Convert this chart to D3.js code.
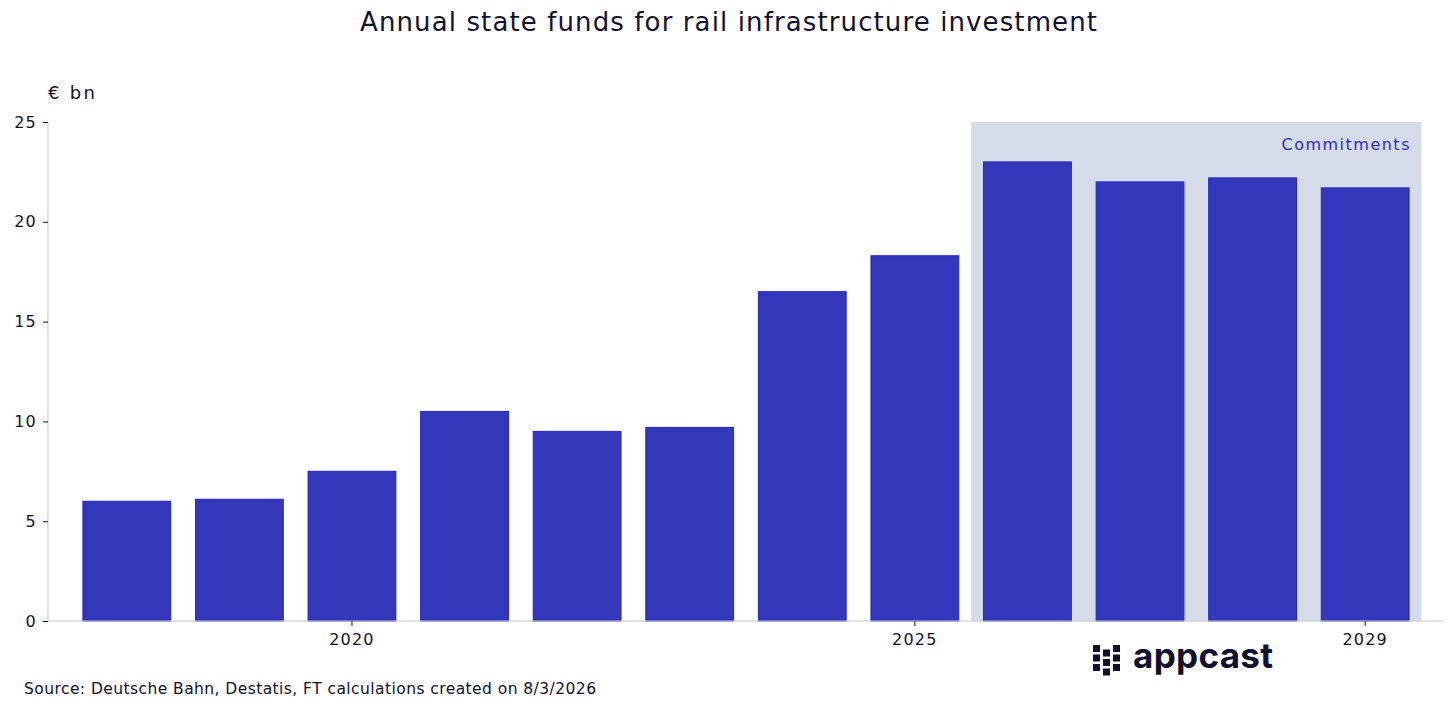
<!DOCTYPE html>
<html>
<head>
<meta charset="utf-8">
<script src="https://cdn.jsdelivr.net/npm/d3@7"></script>
<style>
  body { margin: 0; background: #fff; }
  svg { display: block; font-family: "DejaVu Sans", sans-serif; }
</style>
</head>
<body>
<div id="container"></div>
<script>
/* DATA */
const years = [2018, 2019, 2020, 2021, 2022, 2023, 2024, 2025, 2026, 2027, 2028, 2029];
const funds = [6.0, 6.1, 7.5, 10.5, 9.5, 9.7, 16.5, 18.3, 23.0, 22.0, 22.2, 21.7];
const commitmentYears = [2026, 2027, 2028, 2029];
const yTicks = [0, 5, 10, 15, 20, 25];
const xTickYears = [2020, 2025, 2029];

/* CONSTANTS */
const width = 1456, height = 714;
const margin = {top: 122, bottom: 93, left: 48, right: 12};
const ink = "#11112e";

const svg = d3.select("#container").append("svg")
  .attr("width", width)
  .attr("height", height);

const xScale = d3.scaleBand()
  .domain(years)
  .range([margin.left, width - margin.right])
  .paddingInner(0.22)
  .paddingOuter(0.31);

const yScale = d3.scaleLinear()
  .domain([0, 25])
  .range([height - margin.bottom, margin.top]);

// shaded commitments region
const halfGap = xScale.step() * xScale.paddingInner() / 2;
const c0 = xScale(commitmentYears[0]) - halfGap;
const c1 = xScale(commitmentYears[commitmentYears.length - 1]) + xScale.bandwidth() + halfGap;

svg.append("rect")
  .attr("x", c0)
  .attr("y", yScale(25))
  .attr("width", c1 - c0)
  .attr("height", yScale(0) - yScale(25))
  .attr("fill", "#d5dbe8");

svg.append("text")
  .attr("x", c1 - 140)
  .attr("y", yScale(25) + 28)
  .attr("fill", "#2b2fb8")
  .attr("font-size", 16)
  .attr("textLength", 128)
  .text("Commitments");

// bars
svg.selectAll("rect.bar")
  .data(years.map((y, i) => ({year: y, value: funds[i]})))
  .join("rect")
  .attr("class", "bar")
  .attr("x", d => xScale(d.year))
  .attr("y", d => yScale(d.value))
  .attr("width", xScale.bandwidth())
  .attr("height", d => yScale(0) - yScale(d.value))
  .attr("fill", "#3338bb")
  .attr("stroke", "#2126c8")
  .attr("stroke-width", 1);

// axes
const yAxis = d3.axisLeft(yScale).tickValues(yTicks).tickSize(5).tickPadding(6);
const yAxisGroup = svg.append("g")
  .attr("transform", `translate(${margin.left},0)`)
  .call(yAxis);

const xAxis = d3.axisBottom(xScale).tickValues(xTickYears).tickSize(5).tickPadding(8);
const xAxisGroup = svg.append("g")
  .attr("transform", `translate(0,${yScale(0)})`)
  .call(xAxis);

[yAxisGroup, xAxisGroup].forEach(g => {
  g.select(".domain").attr("stroke", "#c8c8c8").attr("stroke-width", 1.2);
  g.selectAll(".tick line").attr("stroke", ink);
  g.selectAll(".tick text").attr("fill", ink).attr("font-size", 16)
    .attr("letter-spacing", 1.2)
    .attr("font-family", "DejaVu Sans, sans-serif");
});
xAxisGroup.select(".domain").attr("d", `M${margin.left},0H${width - margin.right}`);
yAxisGroup.select(".domain").attr("d", `M0,${yScale(25)}V${yScale(0)}`);

// titles
svg.append("text")
  .attr("x", 360)
  .attr("y", 31)
  .attr("fill", ink)
  .attr("font-size", 26)
  .attr("textLength", 737)
  .text("Annual state funds for rail infrastructure investment");

svg.append("text")
  .attr("x", 48)
  .attr("y", 99)
  .attr("fill", ink)
  .attr("font-size", 18)
  .attr("textLength", 47)
  .text("€ bn");

svg.append("text")
  .attr("x", 24)
  .attr("y", 694)
  .attr("fill", ink)
  .attr("font-size", 15.5)
  .attr("textLength", 572)
  .text("Source: Deutsche Bahn, Destatis, FT calculations created on 8/3/2026");

// logo
const logo = svg.append("g").attr("transform", "translate(1093,645)");
const cells = [[0,0],[0,9.5],[0,19],[10,4.5],[10,14],[10,23.5],[20,0],[20,9.5],[20,19]];
logo.selectAll("rect")
  .data(cells)
  .join("rect")
  .attr("x", d => d[0])
  .attr("y", d => d[1])
  .attr("width", 7)
  .attr("height", 7)
  .attr("fill", "#0f1030");
logo.append("text")
  .attr("x", 40)
  .attr("y", 23)
  .attr("fill", "#0f1030")
  .attr("font-size", 35)
  .attr("font-weight", "bold")
  .attr("font-family", "Inter, sans-serif")
  .attr("textLength", 140)
  .text("appcast");
</script>
</body>
</html>
